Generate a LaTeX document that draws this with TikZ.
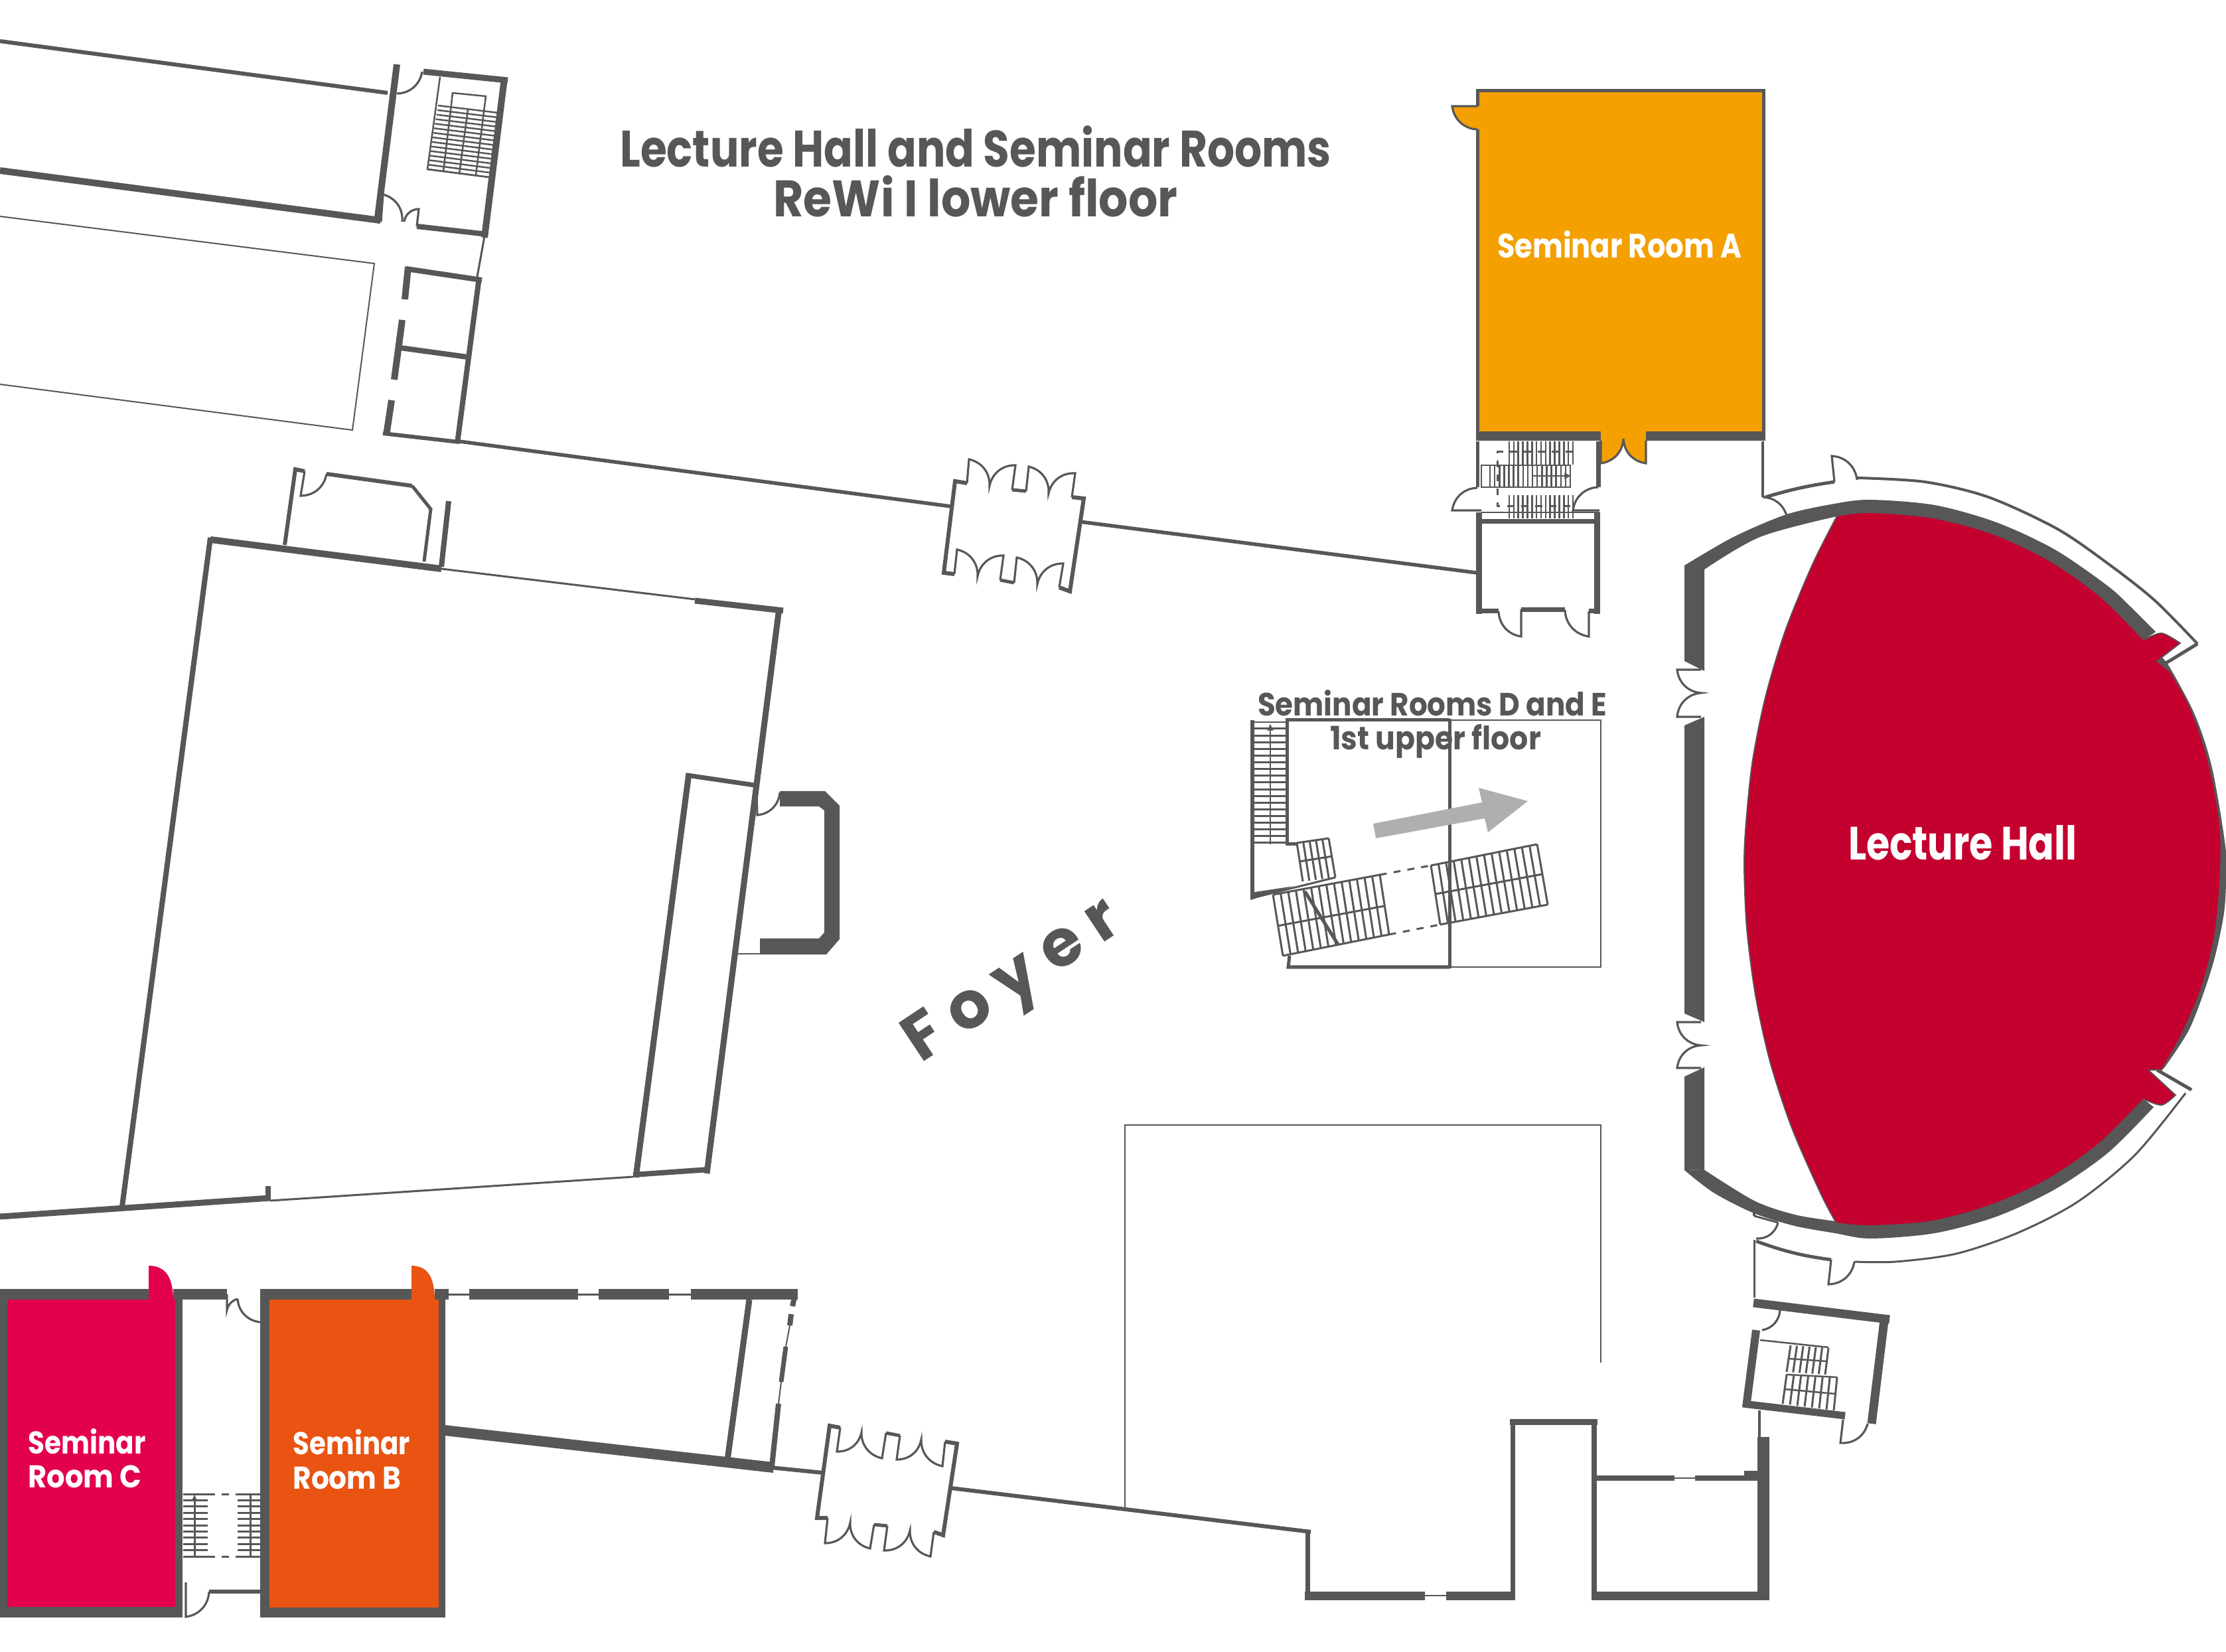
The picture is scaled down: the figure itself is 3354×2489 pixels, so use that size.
\documentclass[tikz,border=0pt]{standalone}
\usepackage{fontspec}
\usepackage{graphicx}
\setmainfont{Poppins}
\usetikzlibrary{calc,arrows.meta}
\definecolor{gr}{HTML}{575757}
\definecolor{orA}{HTML}{F3A000}
\definecolor{redH}{HTML}{C4002F}
\definecolor{crC}{HTML}{E2004F}
\definecolor{orB}{HTML}{E95412}
\definecolor{arr}{HTML}{AEAFAE}
\newlength\px \setlength\px{0.01cm}
\newcommand\fittext[3]{\resizebox{#1\px}{\height}{\fontsize{#2}{#2}\selectfont\bfseries #3}}
\newcommand\treads[6]{\foreach \i in {0,...,#5}{\pgfmathsetmacro\tt{\i/#5}\draw[wall=#6] ($#1!\tt!#4$) -- ($#2!\tt!#3$);}}
\tikzset{
 x=0.01cm,y=-0.01cm,
 wall/.style={draw=gr,line width=#1*0.2845pt,line join=miter},
 door/.style={draw=gr,line width=0.9pt},
 lab/.style={anchor=base,inner sep=0pt,outer sep=0pt,align=center},
 tip/.style={-{Latex[length=3pt,width=3pt]}},
}
\begin{document}
\begin{tikzpicture}
\fill[white] (0,0) rectangle (3354,2489);
\useasboundingbox (0,0) rectangle (3354,2489);

% ---------- top left wing
\draw[wall=6] (0,62) -- (584,140);
\draw[wall=10] (598,97) -- (568,336);
\draw[wall=10] (0,257) -- (573,332);
\draw[wall=9] (638,108) -- (765,121);
\draw[wall=10] (760,118) -- (730,358);
\draw[wall=8] (628,341) -- (734,353);
\draw[door] (636,108) to[bend left=40] (598,141);
\draw[door] (574,334) -- (577,293) to[bend left=40] (606,334);
\draw[door] (628,341) -- (631,315) to[bend right=40] (609,334);
\draw[wall=2.5] (663,116) -- (644,255) -- (737,267);
\draw[wall=2.5] (668,259) -- (682,140) -- (732,145) -- (717,264);
\draw[wall=2.5] (705,165) -- (692,262);
\treads{(660,159)}{(751,170)}{(737,267)}{(644,255)}{14}{2.5}
\draw[wall=3] (730,356) -- (719,417);
\draw[wall=8] (612,405) -- (726,422);
\draw[wall=10] (615,402) -- (610,451);
\draw[wall=10] (606,482) -- (594,572);
\draw[wall=10] (590,603) -- (582,656);
\draw[wall=8] (722,418) -- (689,668);
\draw[wall=8] (603,524) -- (705,538);
\draw[wall=6] (577,653) -- (692,666);
\draw[wall=2] (0,326) -- (564,397) -- (531,648) -- (0,579);

% ---------- corridor wall with top door
\draw[wall=5.5] (692,665) -- (1433,763);
\draw[wall=5.5] (1627,786) -- (2225,863);
\draw[wall=6] (1457,728) -- (1439,725) -- (1422,863) -- (1438,865);
\draw[door] (1457,728) -- (1460,692) to[bend left=40] (1491,732) to[bend left=40] (1530,701) -- (1525,738);
\draw[wall=5] (1525,738) -- (1546,740);
\draw[door] (1546,740) -- (1550,703) to[bend left=40] (1580,743) to[bend left=40] (1620,713) -- (1615,749);
\draw[wall=6] (1615,749) -- (1633,751) -- (1612,891) -- (1596,885);
\draw[door] (1596,885) -- (1602,849) to[bend right=40] (1563,880) to[bend right=40] (1532,840) -- (1528,878);
\draw[wall=5] (1528,878) -- (1507,874);
\draw[door] (1507,874) -- (1512,837) to[bend right=40] (1473,868) to[bend right=40] (1442,828) -- (1438,865);

% ---------- main auditorium block
\draw[wall=8] (184,1818) -- (317,810);
\draw[wall=10] (317,813) -- (665,857);
\draw[wall=3] (665,857) -- (1047,903);
\draw[wall=9] (1047,905) -- (1180,920);
\draw[wall=9] (1174,916) -- (1065,1768);
\draw[wall=7] (1035,1168) -- (1137,1183);
\draw[wall=9] (1038,1165) -- (958,1774);
\draw[wall=9] (0,1833) -- (407,1805);
\draw[wall=3] (407,1809) -- (954,1773);
\draw[wall=8] (954,1770) -- (1068,1762);
\draw[wall=8] (404,1787) -- (404,1808);
\draw[wall=6] (429,821) -- (445,707) -- (459,710);
\draw[door] (459,710) -- (453,747) to[bend right=40] (492,714);
\draw[wall=6] (492,714) -- (621,732);
\draw[wall=5] (621,732) -- (649,767) -- (639,846);
\draw[wall=8] (676,755) -- (665,854);
\fill[gr] (1175,1192) -- (1243,1192) -- (1265,1214) -- (1265,1415) -- (1245,1438) -- (1145,1438) -- (1145,1414) -- (1234,1414) -- (1242,1405) -- (1242,1221) -- (1234,1215) -- (1175,1215) -- cycle;
\draw[door] (1175,1194) to[bend left=40] (1141,1228) -- (1140,1186);
\draw[wall=2] (1145,1437) -- (1109,1437);

% ---------- bottom left rooms
\fill[crC] (0,1958) rectangle (264,2422);
\fill[orB] (406,1958) rectangle (661,2422);
\fill[crC] (224,1960) -- (224,1907) .. controls (250,1907) and (261,1925) .. (261,1960) -- cycle;
\fill[orB] (620,1960) -- (620,1907) .. controls (645,1907) and (655,1925) .. (655,1960) -- cycle;
\draw[wall=11] (5,1942) -- (5,2428);
\draw[wall=16] (0,1950) -- (224,1950);
\draw[wall=16] (261,1950) -- (342,1950);
\draw[wall=16] (392,1950) -- (620,1950);
\draw[wall=16] (655,1950) -- (676,1950);
\draw[wall=3] (676,1950) -- (707,1950);
\draw[wall=16] (707,1950) -- (871,1950);
\draw[wall=3] (871,1950) -- (902,1950);
\draw[wall=16] (902,1950) -- (1008,1950);
\draw[wall=3] (1008,1950) -- (1041,1950);
\draw[wall=16] (1041,1950) -- (1202,1950);
\draw[wall=11] (269,1942) -- (269,2437);
\draw[wall=14] (399,1942) -- (399,2437);
\draw[wall=10] (665.5,1942) -- (665.5,2437);
\draw[wall=16] (0,2429) -- (275,2429);
\draw[wall=15] (392,2429.5) -- (670,2429.5);
\draw[door] (342,1950) -- (342,1974) to[bend left=30] (358,1957);
\draw[door] (358,1957) to[bend right=40] (392,1992);
\draw[wall=8] (1198,1950) -- (1194,1968);
\draw[wall=8] (1192,1980) -- (1190,1997);
\draw[wall=2] (1190,1997) -- (1184,2029);
\draw[wall=7] (1184,2029) -- (1177,2082);
\draw[wall=2] (1177,2082) -- (1173,2115);
\draw[wall=8] (1173,2115) -- (1163,2209);
\draw[wall=9] (1129,1958) -- (1096,2200);
\fill[gr] (670,2147) -- (1165,2203) -- (1165,2219) -- (670,2163) -- cycle;
\draw[wall=6] (1161,2211) -- (1240,2219);
\treads{(276,2251)}{(313,2251)}{(313,2345)}{(276,2345)}{10}{3}
\treads{(358,2251)}{(396,2251)}{(396,2345)}{(358,2345)}{10}{3}
\draw[wall=3,tip] (293,2345) -- (293,2251);
\draw[wall=3] (377,2345) -- (377,2251);
\draw[wall=3,dashed] (313,2251) -- (358,2251);
\draw[wall=3,dashed] (313,2345) -- (358,2345);
\draw[wall=6] (315,2398) -- (396,2398);
\draw[door] (280,2384) -- (280,2436) to[bend right=40] (315,2398);

% ---------- lower door and wall
\draw[wall=6] (1266,2151) -- (1250,2148) -- (1231,2287) -- (1247,2287);
\draw[door] (1266,2151) -- (1261,2187) to[bend right=40] (1298,2158) to[bend right=40] (1329,2197) -- (1335,2159);
\draw[wall=5] (1335,2159) -- (1356,2163);
\draw[door] (1356,2163) -- (1351,2199) to[bend right=40] (1388,2169) to[bend right=40] (1420,2209) -- (1424,2172);
\draw[wall=6] (1424,2172) -- (1442,2175) -- (1421,2313) -- (1407,2308);
\draw[door] (1407,2308) -- (1402,2345) to[bend left=40] (1371,2306) to[bend left=40] (1332,2336) -- (1337,2299);
\draw[wall=5] (1337,2299) -- (1317,2297);
\draw[door] (1317,2297) -- (1311,2333) to[bend left=40] (1281,2294) to[bend left=40] (1243,2325) -- (1247,2287);
\draw[wall=6] (1433,2242) -- (1975,2308);
\draw[wall=7] (1970,2305) -- (1970,2410);
\draw[wall=13] (1966,2404) -- (2147,2404);
\draw[wall=2] (2147,2404) -- (2179,2404);
\draw[wall=13] (2179,2404) -- (2283,2404);
\draw[wall=7] (2279,2410) -- (2279,2138);
\draw[wall=9] (2275,2142) -- (2407,2142);
\draw[wall=8] (2402,2138) -- (2402,2410);
\draw[wall=13] (2398,2404) -- (2666,2404);
\draw[wall=18] (2657,2165) -- (2657,2411);
\draw[wall=8] (2405,2227) -- (2523,2227);
\draw[wall=2] (2523,2227) -- (2554,2227);
\draw[wall=8] (2554,2227) -- (2647,2227);
\fill[gr] (2628,2216) rectangle (2650,2231);
\draw[wall=2] (1695,2272) -- (1695,1695) -- (2412,1695) -- (2412,2053);

% ---------- lower right stair tower
\draw[wall=3] (2643,1868) -- (2643,1955);
\draw[wall=5] (2646,1870) to[bend right=6] (2759,1898);
\draw[door] (2759,1898) -- (2755,1935) to[bend right=40] (2794,1901);
\draw[wall=3] (2643,1832) -- (2679,1842);
\draw[door] (2643,1823) -- (2643,1832);
\draw[door] (2679,1842) to[bend left=40] (2646,1866);
\draw[wall=13] (2642,1963) -- (2847,1988);
\draw[wall=13] (2840,1981) -- (2820,2145);
\draw[door] (2682,1972) to[bend left=40] (2655,2004);
\draw[wall=12] (2646,2004) -- (2631,2120);
\draw[wall=11] (2626,2115) -- (2780,2133);
\draw[door] (2777,2139) -- (2773,2174) to[bend right=40] (2814,2145);
\draw[wall=2.5] (2652,2019) -- (2755,2030);
\treads{(2698,2027)}{(2692,2067)}{(2750,2071)}{(2755,2031)}{6}{3}
\treads{(2692,2071)}{(2686,2115)}{(2763,2125)}{(2768,2075)}{7}{3}
\draw[wall=2.5] (2695,2047) -- (2752,2051);
\draw[wall=2.5] (2692,2071) -- (2768,2075);
\draw[wall=2.5] (2689,2093) -- (2765,2100);
\draw[wall=4] (2651,2125) -- (2651,2165);

% ---------- seminar room A
\fill[orA] (2224,134) rectangle (2658,656);
\fill[orA] (2188,160) to[bend right=40] (2230,195) -- (2230,160) -- cycle;
\draw[door] (2226,160) -- (2188,160) to[bend right=40] (2226,195);
\fill[orA] (2412,650) -- (2412,698) to[bend right=40] (2446,661) to[bend right=40] (2480,698) -- (2480,650) -- cycle;
\draw[door] (2412,664) -- (2412,698) to[bend right=40] (2446,661) to[bend right=40] (2480,698) -- (2480,664);
\draw[wall=5] (2226,160) -- (2226,136.5) -- (2657,136.5) -- (2657,657);
\draw[wall=14] (2224,657) -- (2412,657);
\draw[wall=14] (2480,657) -- (2660,657);
\draw[wall=5] (2226,195) -- (2226,650);
\draw[wall=4] (2656,665) -- (2656,749);
\draw[wall=5] (2226,665) -- (2226,734);
\draw[wall=7] (2408,665) -- (2408,734);
\draw[door] (2226,735) to[bend right=40] (2188,769) -- (2232,769);
\draw[door] (2408,734) to[bend right=40] (2370,769) -- (2410,769);
\draw[wall=2.5] (2232,772) -- (2410,772);
\draw[wall=7] (2228,786) -- (2406,786);
\draw[wall=9] (2228,772) -- (2228,925);
\draw[wall=9] (2406,772) -- (2406,925);
\draw[wall=7] (2224,921) -- (2258,921);
\draw[door] (2258,921) to[bend right=40] (2292,959) -- (2292,918);
\draw[wall=7] (2292,919) -- (2358,919);
\draw[door] (2358,919) to[bend right=40] (2394,959) -- (2394,921);
\draw[wall=7] (2394,921) -- (2410,921);
\treads{(2274,665)}{(2274,700)}{(2370,700)}{(2370,665)}{14}{2.5}
\draw[wall=2.5] (2232,701) rectangle (2366,734);
\treads{(2245,701)}{(2245,734)}{(2366,734)}{(2366,701)}{17}{2.5}
\treads{(2274,746)}{(2274,781)}{(2370,781)}{(2370,746)}{14}{2.5}
\draw[wall=3,dashed] (2370,681) -- (2256,681) -- (2256,763) -- (2370,763);
\draw[wall=2.5,tip] (2310,717) -- (2368,717);

% ---------- lecture hall shell
\fill[gr] (2538,852) -- (2568,852) -- (2568,1011) -- (2538,996) -- cycle;
\fill[gr] (2568,1080) -- (2538,1093) -- (2538,1527) -- (2568,1540) -- cycle;
\fill[gr] (2568,1608) -- (2538,1622) -- (2538,1763) -- (2568,1762) -- cycle;
\draw[door] (2563,1009) -- (2527,1009) to[bend right=40] (2563,1044) to[bend right=40] (2527,1080) -- (2563,1080);
\draw[door] (2563,1540) -- (2527,1540) to[bend right=40] (2563,1575) to[bend right=40] (2527,1609) -- (2563,1609);
\fill[gr] plot[smooth] coordinates {(2538,852) (2612,809) (2692,775) (2764,759) (2818,753) (2915,761) (3008,787) (3096,828) (3176,883) (3212,916) (3248,952)}
 -- plot[smooth] coordinates {(3230,964) (3164,898) (3087,844) (3002,804) (2911,780) (2818,772) (2772,777) (2652,809) (2568,858)} -- cycle;
\fill[gr] plot[smooth] coordinates {(3250,985) (3267,1002) (3307,1077) (3333,1157) (3353,1275) (3354,1330) (3350,1382) (3333,1457) (3300,1548) (3260,1610)}
 -- (3237,1612) -- (3250,1560) -- cycle;
\fill[gr] plot[smooth] coordinates {(2538,1763) (2582,1797) (2643,1828) (2704,1847) (2765,1858) (2818,1866) (2915,1858) (3008,1833) (3096,1792) (3176,1737) (3245,1668)}
 -- plot[smooth] coordinates {(3230,1656) (3164,1722) (3087,1776) (3002,1815) (2911,1840) (2818,1847) (2765,1840) (2704,1830) (2643,1809) (2567,1762)} -- cycle;
\draw[wall=5] (2660,749) to[bend left=4] (2764,726);
\draw[door] (2764,726) -- (2760,687) to[bend left=40] (2798,723);
\draw[wall=4] plot[smooth] coordinates {(2798,720) (2900,726) (2996,749) (3100,797) (3180,852) (3247,905) (3311,970)};
\draw[wall=5] (3311,970) -- (3262,1000);
\draw[door] (2656,749) to[bend left=35] (2692,777);
\draw[wall=5] (3302,1642) -- (3250,1612);
\draw[wall=3] plot[smooth] coordinates {(3293,1647) (3217,1740) (3130,1811) (3039,1858) (2947,1889) (2856,1901) (2794,1901)};
\fill[redH,draw=gr,line width=0.5pt] plot[smooth] coordinates {(2768,777) (2818,772) (2911,780) (3002,804) (3087,844) (3164,898) (3230,964)}
 -- plot[smooth] coordinates {(3230,964) (3257,954) (3285,969)} -- (3250,996)
 -- plot[smooth] coordinates {(3270,1012) (3300,1066) (3327,1146) (3345,1243) (3345,1328) (3337,1409) (3317,1489) (3287,1559) (3257,1612)}
 -- (3237,1612) -- plot[smooth] coordinates {(3278,1650) (3257,1665) (3230,1656)}
 -- plot[smooth] coordinates {(3230,1656) (3164,1722) (3087,1776) (3002,1815) (2911,1840) (2818,1847) (2768,1843)}
 -- plot[smooth] coordinates {(2768,1845) (2744,1800) (2700,1700) (2667,1600) (2645,1500) (2632,1400) (2628,1311) (2630,1250) (2640,1150) (2660,1050) (2690,950) (2731,850) (2768,777)} -- cycle;

% ---------- stair block 1st upper floor
\draw[wall=5] (2184,1085) -- (1939,1085) -- (1939,1272) -- (1954,1272);
\draw[wall=2] (2184,1085) -- (2412,1085) -- (2412,1457) -- (2184,1457);
\draw[wall=5] (2184,1083) -- (2184,1459);
\draw[wall=5] (2184,1457) -- (1941,1457) -- (1943,1440);
\draw[wall=2.5] (1887,1088) -- (1939,1088);
\draw[wall=6] (1887,1085) -- (1887,1353);
\treads{(1887,1098)}{(1939,1098)}{(1939,1270)}{(1887,1270)}{17}{3}
\draw[wall=2.5,tip] (1914,1272) -- (1914,1090);
\fill[gr] (1884,1345) -- (1950,1335) -- (1884,1356) -- cycle;
\draw[wall=3] (1887,1353) -- (2012,1322);
\treads{(1954,1270)}{(1963,1328)}{(2012,1322)}{(2002,1263)}{5}{3}
\draw[wall=3] (1954,1270) -- (2002,1263);
\draw[wall=3] (1958,1298) -- (2008,1290);
\treads{(1918,1348)}{(1933,1440)}{(2093,1408)}{(2079,1318)}{14}{3}
\draw[wall=3] (1918,1348) -- (2079,1318);
\draw[wall=3] (1933,1440) -- (2093,1408);
\draw[wall=3] (1925,1395) -- (2086,1365);
\draw[wall=3,dashed] (2079,1318) -- (2156,1304);
\draw[wall=3,dashed] (2093,1408) -- (2170,1393);
\treads{(2156,1304)}{(2170,1393)}{(2332,1363)}{(2316,1272)}{14}{3}
\draw[wall=3] (2156,1304) -- (2316,1272);
\draw[wall=3] (2170,1393) -- (2332,1363);
\draw[wall=3] (2163,1347) -- (2324,1317);
\draw[wall=5] (1966,1343) -- (2016,1423);
\fill[arr] (2069,1241) -- (2233,1209) -- (2228,1187) -- (2302,1207) -- (2242,1254) -- (2237,1233) -- (2073,1263) -- cycle;

% ---------- labels
\node[lab,text=gr] (title1) at (1470,252) {\fittext{1071}{22pt}{Lecture Hall and Seminar Rooms}};
\node[lab,text=gr] (title2) at (1470,327) {\fittext{609}{22pt}{ReWi I lower floor}};
\node[lab,text=white] (roomA) at (2440,389) {\fittext{368}{14.5pt}{Seminar Room A}};
\node[lab,text=white] (hall) at (2957,1296) {\fittext{344}{20pt}{Lecture Hall}};
\node[lab,text=white] (roomC1) at (131,2190) {\fittext{177}{13.5pt}{Seminar}};
\node[lab,text=white] (roomC2) at (128,2241) {\fittext{171}{13.5pt}{Room C}};
\node[lab,text=white] (roomB1) at (530,2191) {\fittext{176}{13.5pt}{Seminar}};
\node[lab,text=white] (roomB2) at (523,2243) {\fittext{163}{13.5pt}{Room B}};
\node[lab,text=gr] (de1) at (2158,1079) {\fittext{526}{13.8pt}{Seminar Rooms D and E}};
\node[lab,text=gr] (de2) at (2163,1130) {\fittext{318}{13.8pt}{1st upper floor}};
\node[anchor=center,inner sep=0pt,text=gr,rotate=33.6] (foyer) at (1529,1483) {\fontsize{28pt}{28pt}\selectfont\bfseries\spaceskip=0.22em F o y e r};
\end{tikzpicture}
\end{document}
